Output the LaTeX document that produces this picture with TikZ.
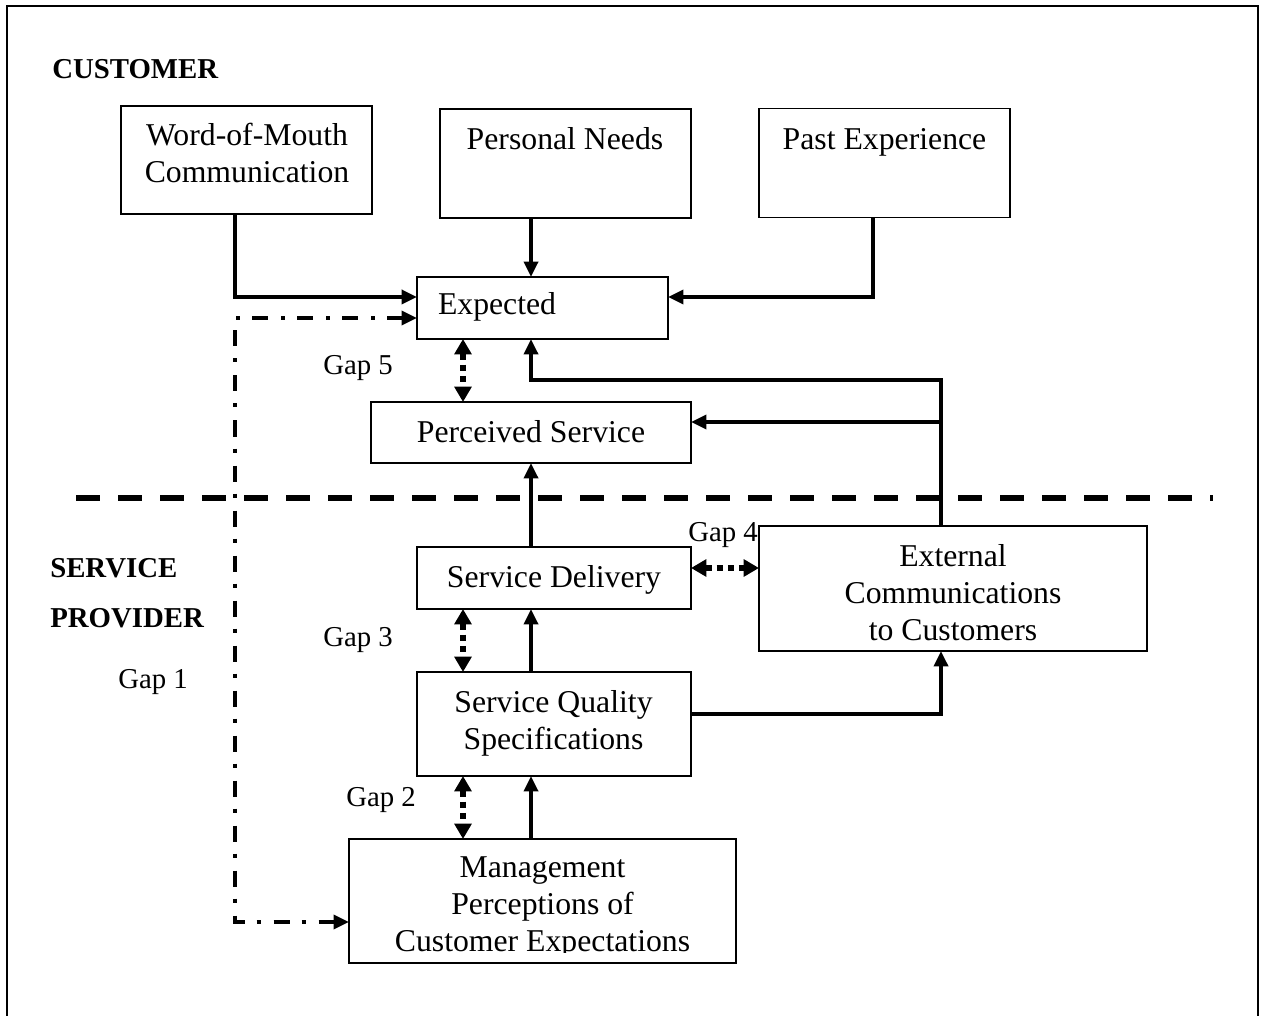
\documentclass[tikz,border=0pt]{standalone}
\usepackage{fontspec}
\setmainfont{Liberation Serif}
\usetikzlibrary{arrows.meta}
\begin{document}
\begin{tikzpicture}[x=0.75pt,y=-0.75pt,
  box/.style={draw, line width=1.3pt, inner sep=0pt, outer sep=0pt},
  sz/.style 2 args={minimum width=#1*0.75pt, minimum height=#2*0.75pt},
  txt/.style={inner sep=0pt, outer sep=0pt, align=center, font=\fontsize{23.8}{27.75}\selectfont},
  gaptxt/.style={inner sep=0pt, anchor=base west, font=\fontsize{21.6}{26}\selectfont},
  headtxt/.style={inner sep=0pt, anchor=base west, font=\bfseries\fontsize{21.6}{26}\selectfont},
  arr/.style={line width=2.6pt, -{Triangle[length=11.5pt,width=10.5pt]}},
  gaparr/.style={line width=4.8pt, dash pattern=on 4.8pt off 3.6pt,
     {Triangle[length=11.5pt,width=12.5pt]}-{Triangle[length=11.5pt,width=12.5pt]}},
  dashdot/.style={line width=2.5pt, dash pattern=on 12pt off 9pt on 3pt off 9.75pt,
     {Triangle[length=11.5pt,width=10.5pt]}-{Triangle[length=11.5pt,width=10.5pt]}},
  sepline/.style={line width=4.6pt, dash pattern=on 18pt off 13.5pt},
  frame/.style={line width=1.6pt}
]
\useasboundingbox (0,0) rectangle (1261,1016);
\draw[frame] (7,1016) -- (7,6) -- (1258,6) -- (1258,1016);

% boxes
\node[box, sz={251}{108}] (wom) at (246.5,160) {};
\node[box, sz={251}{109}] (pn)  at (565.5,163.5) {};
\node[box, sz={251}{109}] (pe)  at (884.5,163) {};
\node[box, sz={251}{62}]  (exp) at (542.5,308) {};
\node[box, sz={320}{61}]  (per) at (531,432.5) {};
\node[box, sz={274}{62}]  (sd)  at (554,578) {};
\node[box, sz={274}{104}] (sqs) at (554,724) {};
\node[box, sz={388}{125}] (ext) at (953,588.5) {};
\node[box, sz={387}{124}] (mp)  at (542.5,901) {};

% texts
\node[headtxt] (lcust) at (52,79) {CUSTOMER};
\node[headtxt] (lserv) at (50,577) {SERVICE};
\node[headtxt] (lprov) at (50,627) {PROVIDER};
\node[gaptxt] (g1) at (118,688) {Gap 1};
\node[gaptxt] (g2) at (346,806) {Gap 2};
\node[gaptxt] (g3) at (323,646) {Gap 3};
\node[gaptxt] (g4) at (688,541) {Gap 4};
\node[gaptxt] (g5) at (323,375) {Gap 5};

\node[txt, anchor=north] (womt) at (247,123.3) {Word-of-Mouth\\Communication};
\node[txt, anchor=base] (pnt) at (565,150) {Personal Needs};
\node[txt, anchor=base] (pet) at (884.5,150) {Past Experience};
\node[txt, anchor=base west] (expt) at (438,315) {Expected};
\node[txt, anchor=base] (pert) at (531,442) {Perceived Service};
\node[txt, anchor=base] (sdt) at (554,587) {Service Delivery};
\node[txt, anchor=north] (sqst) at (553.5,690.3) {Service Quality\\Specifications};
\node[txt, anchor=north] (extt) at (953,544.3) {External\\Communications\\to Customers};
\begin{scope}
  \clip (349,839) rectangle (736,952.5);
  \node[txt, anchor=north] (mpt) at (542.5,857) {Management\\Perceptions of\\Customer Expectations};
\end{scope}

% helper coordinates
\coordinate (xl) at (235,0);
\coordinate (col) at (531,0);
\coordinate (xg) at (463,0);
\coordinate (xr) at (941,0);
\coordinate (xp) at (873,0);
\coordinate (ya) at (0,297);
\coordinate (ydd) at (0,318);
\coordinate (yb) at (0,380);
\coordinate (yc) at (0,422);
\coordinate (yg4) at (0,568);
\coordinate (yd) at (0,714);
\coordinate (ym) at (0,922);

% separator
\coordinate (sepL) at (76,498);
\coordinate (sepR) at (1213,498);
\draw[sepline] (sepL) -- (sepR);

% connectors
\draw[arr] (wom.south -| xl) |- (exp.west |- ya);
\draw[arr] (pn.south -| col) -- (exp.north -| col);
\draw[arr] (pe.south -| xp) |- (exp.east |- ya);
\draw[arr] (ext.north -| xr) -- (xr |- yb) -| (exp.south -| col);
\draw[arr] (xr |- yc) -- (per.east |- yc);
\draw[arr] (sd.north -| col) -- (per.south -| col);
\draw[arr] (sqs.north -| col) -- (sd.south -| col);
\draw[arr] (mp.north -| col) -- (sqs.south -| col);
\draw[arr] (sqs.east |- yd) -| (ext.south -| xr);

\draw[gaparr] (exp.south -| xg) -- (per.north -| xg);
\draw[gaparr] (sd.south -| xg) -- (sqs.north -| xg);
\draw[gaparr] (sqs.south -| xg) -- (mp.north -| xg);
\draw[gaparr] (sd.east |- yg4) -- (ext.west |- yg4);

\draw[dashdot] (exp.west |- ydd) -| (xl |- ym) -- (mp.west |- ym);
\end{tikzpicture}
\end{document}
